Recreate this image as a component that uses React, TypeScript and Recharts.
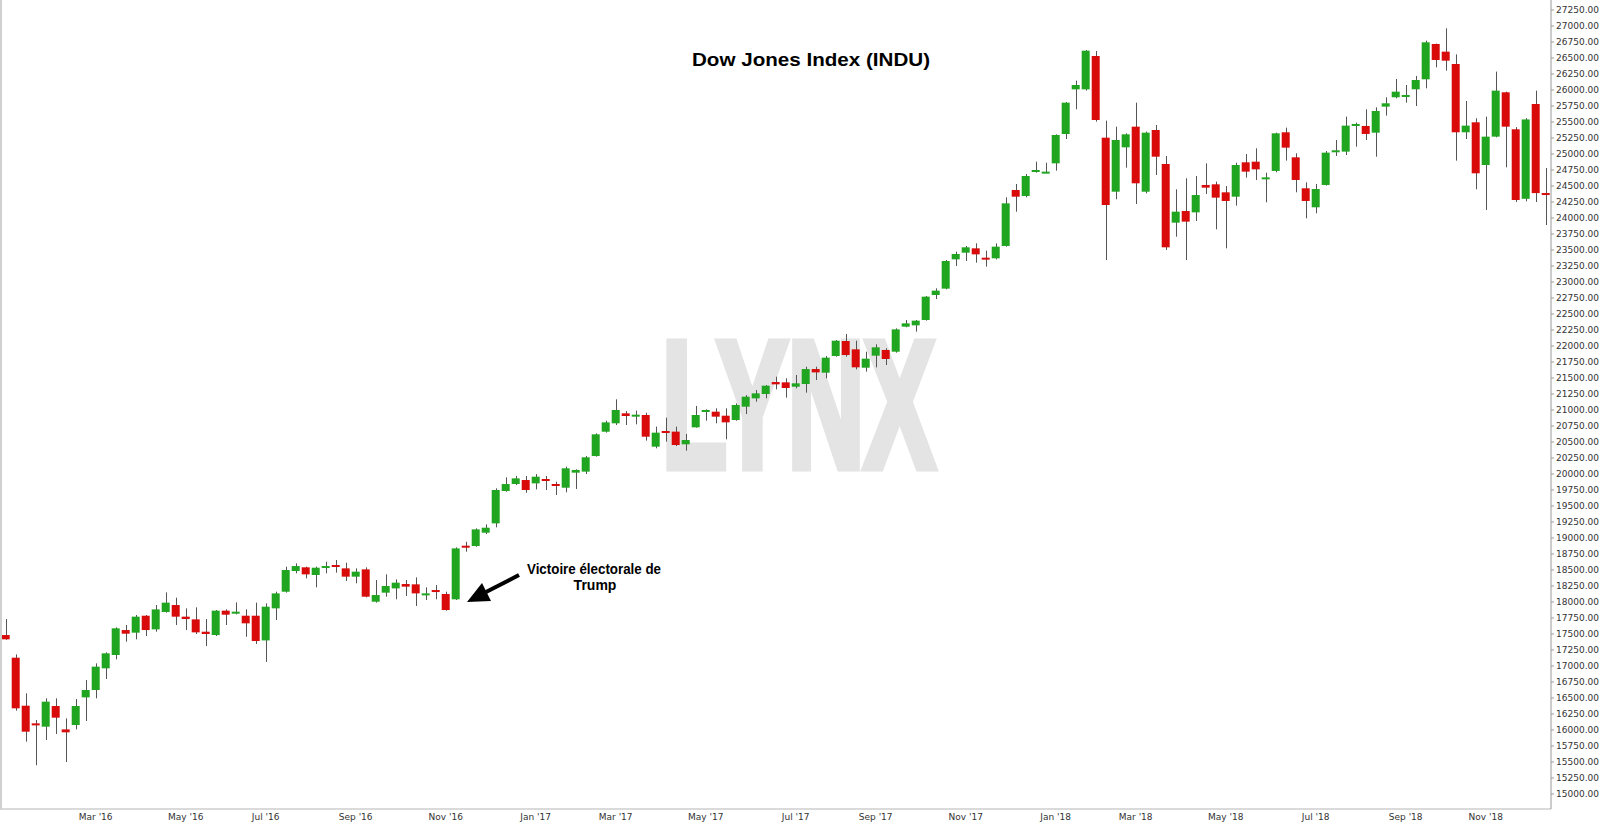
import { Bar, ComposedChart, XAxis, YAxis } from "recharts";

// weekly candles, Dec '15 -> Dec '18
const opens = [
  17484, 17130, 16380, 16104, 16052, 16375, 16010, 16078, 16510, 16625,
  16964, 17172, 17562, 17521, 17786, 17573, 17844, 17953, 17771, 17729,
  17536, 17484, 17865, 17818, 17786, 17786, 17400, 17901, 18161, 18484,
  18542, 18422, 18542, 18578, 18526, 18396, 18510, 18005, 18146, 18213,
  18281, 18276, 18115, 18187, 18125, 18042, 18880, 18875, 19083, 19229,
  19734, 19844, 19906, 19854, 19922, 19844, 19786, 20021, 20037, 20281,
  20661, 20792, 20948, 20906, 20922, 20427, 20672, 20662, 20464, 20729,
  20974, 20974, 20911, 20844, 21052, 21182, 21250, 21437, 21432, 21364,
  21406, 21640, 21583, 21844, 22078, 21948, 21661, 21849, 21938, 21911,
  22302, 22323, 22406, 22797, 22896, 23354, 23458, 23526, 23380, 23370,
  23563, 24437, 24344, 24724, 24708, 24854, 25312, 26010, 26010, 26531,
  25255, 24411, 25104, 25427, 24411, 25375, 24844, 23927, 24109, 24088,
  24516, 24526, 24401, 24333, 24870, 24880, 24609, 24735, 25339, 24948,
  24464, 24167, 24516, 25032, 25037, 25443, 25438, 25333, 25740, 25886,
  25901, 26011, 26167, 26719, 26599, 26406, 25339, 25495, 24828, 25271,
  25964, 25386, 24300, 25781, 24390,
];
const highs = [
  17734, 17182, 16573, 16156, 16495, 16495, 16182, 16484, 16781, 17042,
  17214, 17604, 17641, 17797, 17797, 17953, 18151, 18068, 17901, 17917,
  17734, 17875, 17885, 17995, 17885, 17990, 17979, 18161, 18552, 18604,
  18552, 18552, 18630, 18656, 18614, 18526, 18542, 18344, 18432, 18354,
  18344, 18385, 18229, 18265, 18161, 18854, 18942, 19151, 19213, 19776,
  19948, 19969, 19969, 19999, 19969, 19880, 20115, 20073, 20281, 20635,
  20833, 21167, 20984, 20990, 20958, 20740, 20880, 20740, 20625, 21063,
  21010, 21026, 21026, 21104, 21234, 21312, 21390, 21521, 21495, 21547,
  21677, 21677, 21844, 22094, 22188, 22083, 21911, 22026, 21964, 22276,
  22406, 22406, 22781, 22901, 23344, 23474, 23563, 23604, 23490, 23604,
  24323, 24531, 24687, 24880, 24864, 25307, 25812, 26146, 26625, 26609,
  25521, 25427, 25323, 25802, 25349, 25453, 24969, 24448, 24620, 24656,
  24854, 24568, 24500, 24864, 25000, 25088, 24708, 25333, 25412, 25011,
  24557, 24532, 25047, 25219, 25584, 25490, 25698, 25729, 25886, 26172,
  26078, 26219, 26771, 26725, 26964, 26557, 25828, 25558, 25584, 26287,
  25974, 25420, 25560, 25990, 24781,
];
const lows = [
  17410, 16302, 15818, 15450, 15844, 15938, 15500, 16010, 16141, 16495,
  16797, 17104, 17380, 17417, 17469, 17536, 17833, 17641, 17562, 17500,
  17312, 17469, 17641, 17807, 17458, 17344, 17063, 17719, 18146, 18448,
  18370, 18229, 18448, 18458, 18328, 18292, 18073, 17990, 18083, 18042,
  18094, 17938, 18031, 18042, 17865, 18031, 18786, 18864, 19062, 19167,
  19724, 19828, 19708, 19760, 19750, 19672, 19714, 19766, 20000, 20271,
  20646, 20766, 20766, 20776, 20521, 20401, 20505, 20437, 20365, 20724,
  20833, 20792, 20542, 20833, 20937, 21130, 21182, 21323, 21193, 21339,
  21271, 21469, 21495, 21833, 21833, 21635, 21599, 21667, 21703, 21896,
  22292, 22224, 22396, 22734, 22885, 23250, 23328, 23302, 23240, 23354,
  23552, 24099, 24323, 24708, 24700, 24740, 25234, 25698, 25990, 25505,
  23344, 24292, 24786, 24219, 24385, 24672, 23500, 23708, 23344, 23953,
  24375, 23823, 23526, 24193, 24630, 24594, 24245, 24714, 24896, 24401,
  23995, 24073, 24506, 24969, 24984, 25115, 25219, 24958, 25599, 25870,
  25802, 25750, 26026, 26354, 26302, 24896, 25234, 24448, 24125, 25261,
  24792, 24250, 24260, 24250, 23890,
];
const closes = [
  17417, 16339, 15974, 16078, 16443, 16193, 15964, 16375, 16625, 16990,
  17198, 17589, 17505, 17771, 17562, 17885, 17990, 17771, 17734, 17526,
  17500, 17865, 17802, 17849, 17667, 17391, 17927, 18135, 18500, 18562,
  18432, 18536, 18562, 18552, 18396, 18474, 18083, 18109, 18250, 18302,
  18240, 18135, 18135, 18161, 17875, 18838, 18854, 19135, 19161, 19750,
  19843, 19932, 19750, 19958, 19891, 19818, 20089, 20063, 20261, 20620,
  20807, 21000, 20906, 20927, 20583, 20646, 20651, 20453, 20531, 20922,
  21000, 20896, 20807, 21078, 21208, 21260, 21380, 21401, 21344, 21417,
  21640, 21588, 21818, 22083, 21859, 21667, 21802, 21979, 21797, 22260,
  22354, 22396, 22771, 22865, 23328, 23438, 23542, 23432, 23359, 23552,
  24229, 24333, 24656, 24750, 24724, 25297, 25802, 26078, 26614, 25531,
  24203, 25219, 25307, 24542, 25333, 24958, 23542, 24099, 23943, 24359,
  24474, 24318, 24266, 24828, 24724, 24760, 24635, 25323, 25099, 24594,
  24266, 24453, 25021, 25058, 25443, 25469, 25313, 25672, 25792, 25974,
  25922, 26156, 26745, 26469, 26458, 25339, 25443, 24698, 25271, 25990,
  25427, 24281, 25540, 24389, 24360,
];

const monthTickIdx = [9, 18, 26, 35, 44, 53, 61, 70, 79, 87, 96, 105, 113, 122, 131, 140, 148];
const monthLabels = [
  "Mar '16", "May '16", "Jul '16", "Sep '16", "Nov '16", "Jan '17", "Mar '17", "May '17",
  "Jul '17", "Sep '17", "Nov '17", "Jan '18", "Mar '18", "May '18", "Jul '18", "Sep '18", "Nov '18",
];
const priceTicks = [
  15000, 15250, 15500, 15750, 16000, 16250, 16500, 16750, 17000, 17250,
  17500, 17750, 18000, 18250, 18500, 18750, 19000, 19250, 19500, 19750,
  20000, 20250, 20500, 20750, 21000, 21250, 21500, 21750, 22000, 22250,
  22500, 22750, 23000, 23250, 23500, 23750, 24000, 24250, 24500, 24750,
  25000, 25250, 25500, 25750, 26000, 26250, 26500, 26750, 27000, 27250,
];

const data = opens.map((o, i) => ({
  i,
  open: o,
  high: highs[i],
  low: lows[i],
  close: closes[i],
  range: [lows[i], highs[i]],
}));

const UP = "#20a520";
const DOWN = "#d90a0a";
const axisFont = { fontSize: 9, fontFamily: "DejaVu Sans, Verdana, sans-serif", fill: "#333" };

function Candle(props: any) {
  const { x, y, width, height, payload } = props;
  if (height == null || !payload) return null;
  const { open, close, high, low } = payload;
  const k = height / (high - low);
  const yO = y + (high - open) * k;
  const yC = y + (high - close) * k;
  const top = Math.min(yO, yC);
  const h = Math.max(Math.abs(yO - yC), 2);
  const cx = Math.round(x + width / 2) + 0.5;
  return (
    <g>
      <line x1={cx} x2={cx} y1={y} y2={y + height} stroke="#555" strokeWidth={1} />
      <rect x={x} y={top} width={width} height={h} fill={close >= open ? UP : DOWN} />
    </g>
  );
}

export default function App() {
  return (
    <div style={{ position: "absolute", left: 0, top: 0, width: 1600, height: 827, background: "#fff", overflow: "hidden" }}>
      <svg width={1600} height={827} style={{ position: "absolute", left: 0, top: 0 }}>
        <text
          x={662}
          y={467}
          textLength={273}
          lengthAdjust="spacingAndGlyphs"
          fontFamily="Liberation Sans, Arial, sans-serif"
          fontWeight="bold"
          fontSize={180}
          fill="#e4e4e4"
          stroke="#e4e4e4"
          strokeWidth={9}
          strokeLinejoin="miter"
        >
          LYNX
        </text>
      </svg>
      <div style={{ position: "absolute", left: 0, top: 0 }}>
        <ComposedChart width={1600} height={827} data={data} margin={{ top: 0, right: 0, bottom: 0, left: 0 }}>
          <XAxis
            dataKey="i"
            type="number"
            domain={[-0.57, 154.53]}
            allowDataOverflow
            ticks={monthTickIdx}
            tickFormatter={(v: number) => monthLabels[monthTickIdx.indexOf(v)] ?? ""}
            tick={axisFont}
            tickLine={false}
            tickSize={0}
            tickMargin={5}
            height={18}
            stroke="#b5b5b5"
          />
          <YAxis
            orientation="right"
            type="number"
            domain={[14766, 27406]}
            allowDataOverflow
            ticks={priceTicks}
            interval={0}
            tickFormatter={(v: number) => v.toFixed(2)}
            tick={axisFont}
            tickSize={3}
            tickMargin={2}
            width={49}
            stroke="#999"
          />
          <Bar dataKey="range" barSize={8} shape={<Candle />} isAnimationActive={false} />
        </ComposedChart>
      </div>
      <svg width={1600} height={827} style={{ position: "absolute", left: 0, top: 0, pointerEvents: "none" }}>
        <line x1={1} x2={1} y1={0} y2={809} stroke="#d0d0d0" strokeWidth={2} />
        <text
          x={811}
          y={66}
          textAnchor="middle"
          textLength={238}
          lengthAdjust="spacingAndGlyphs"
          fontFamily="Liberation Sans, Arial, sans-serif"
          fontWeight="bold"
          fontSize={19}
          fill="#000"
        >
          Dow Jones Index (INDU)
        </text>
        <text
          x={594}
          y={574}
          textAnchor="middle"
          textLength={134}
          lengthAdjust="spacingAndGlyphs"
          fontFamily="Liberation Sans, Arial, sans-serif"
          fontWeight="bold"
          fontSize={14}
          fill="#000"
        >
          Victoire électorale de
        </text>
        <text
          x={595}
          y={590}
          textAnchor="middle"
          fontFamily="Liberation Sans, Arial, sans-serif"
          fontWeight="bold"
          fontSize={14}
          fill="#000"
        >
          Trump
        </text>
        <line x1={519} y1={575} x2={486} y2={592} stroke="#000" strokeWidth={4} />
        <polygon points="467,602 491,601 482,583" fill="#000" />
      </svg>
    </div>
  );
}
